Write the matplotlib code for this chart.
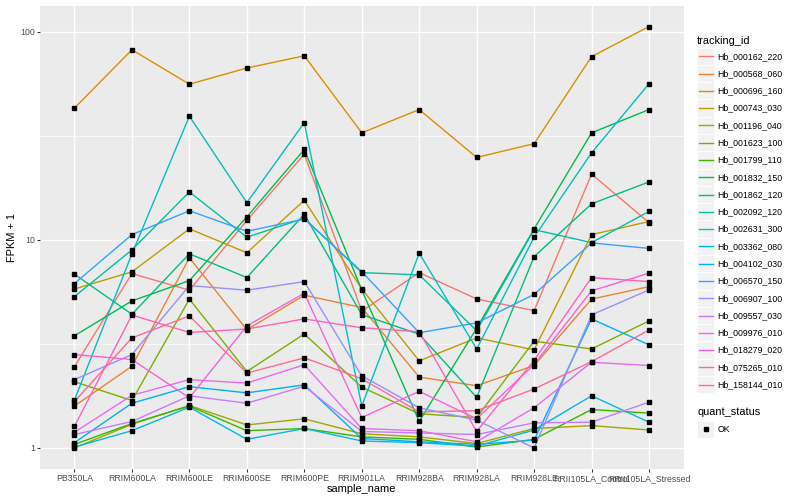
import numpy as np
import matplotlib
matplotlib.use("Agg")
import matplotlib.pyplot as plt
from matplotlib.ticker import LogLocator, FuncFormatter, NullFormatter
from matplotlib.lines import Line2D
from matplotlib.patches import Rectangle

plt.rcParams['font.family'] = ['Liberation Sans', 'DejaVu Sans']

samples = ['PB350LA', 'RRIM600LA', 'RRIM600LE', 'RRIM600SE', 'RRIM600PE', 'RRIM901LA',
           'RRIM928BA', 'RRIM928LA', 'RRIM928LE', 'RRII105LA_Control', 'RRII105LA_Stressed']

tracking_ids = ['Hb_000162_220', 'Hb_000568_060', 'Hb_000696_160', 'Hb_000743_030',
                'Hb_001196_040', 'Hb_001623_100', 'Hb_001799_110', 'Hb_001832_150',
                'Hb_001862_120', 'Hb_002092_120', 'Hb_002631_300', 'Hb_003362_080',
                'Hb_004102_030', 'Hb_006570_150', 'Hb_006907_100', 'Hb_009557_030',
                'Hb_009976_010', 'Hb_018279_020', 'Hb_075265_010', 'Hb_158144_010']

# FPKM + 1 values, one list per tracking_id, in sample order
hb_000162_220 = [2.46, 6.89, 5.73, 12.4, 25.8, 4.55, 6.96, 5.20, 4.57, 20.7, 12.1]
hb_000568_060 = [1.59, 2.47, 8.20, 3.70, 5.42, 4.73, 2.19, 1.99, 2.49, 5.19, 5.96]
hb_000696_160 = [43.0, 82.0, 56.0, 67.0, 76.7, 32.7, 42.3, 24.9, 29.0, 76.0, 106.0]
hb_000743_030 = [5.81, 7.02, 11.3, 8.67, 15.5, 5.81, 2.62, 3.38, 2.96, 10.6, 12.25]
hb_001196_040 = [1.00, 1.30, 1.60, 1.29, 1.38, 1.17, 1.13, 1.05, 1.24, 1.28, 1.22]
hb_001623_100 = [2.08, 1.69, 5.19, 2.33, 3.53, 1.96, 1.46, 1.40, 3.26, 2.99, 4.08]
hb_001799_110 = [1.04, 1.31, 1.59, 1.21, 1.24, 1.13, 1.10, 1.01, 1.10, 1.53, 1.47]
hb_001832_150 = [3.46, 5.09, 6.37, 12.9, 27.2, 5.75, 1.34, 3.76, 11.3, 32.7, 42.3]
hb_001862_120 = [6.84, 4.39, 8.57, 6.59, 13.3, 4.37, 3.52, 1.75, 8.31, 14.9, 19.0]
hb_002092_120 = [5.34, 8.95, 17.0, 10.3, 12.7, 6.96, 6.79, 3.66, 11.2, 9.70, 13.7]
hb_002631_300 = [1.70, 8.57, 39.3, 15.1, 36.6, 1.59, 8.63, 2.99, 10.3, 26.2, 56.3]
hb_003362_080 = [1.01, 1.21, 1.57, 1.10, 1.24, 1.08, 1.06, 1.02, 1.22, 1.78, 1.33]
hb_004102_030 = [1.06, 1.64, 1.97, 1.84, 2.01, 1.11, 1.07, 1.04, 1.09, 4.17, 3.13]
hb_006570_150 = [6.17, 10.6, 13.8, 11.0, 12.6, 7.04, 3.58, 3.99, 5.47, 9.67, 9.10]
hb_006907_100 = [2.13, 2.81, 6.03, 5.73, 6.30, 2.22, 1.56, 1.36, 1.00, 4.36, 5.75]
hb_009557_030 = [1.16, 1.34, 1.78, 1.64, 1.98, 1.20, 1.18, 1.16, 1.32, 1.33, 1.66]
hb_009976_010 = [1.19, 1.79, 2.13, 2.05, 2.51, 1.24, 1.21, 1.07, 1.56, 2.58, 2.49]
hb_018279_020 = [2.81, 2.66, 1.74, 3.86, 5.54, 1.40, 1.87, 1.38, 2.52, 5.69, 6.92]
hb_075265_010 = [1.27, 4.35, 3.59, 3.73, 4.17, 3.78, 3.62, 1.20, 2.64, 6.59, 6.30]
hb_158144_010 = [1.67, 3.38, 4.31, 2.29, 2.71, 2.15, 1.49, 1.51, 1.92, 2.60, 3.69]

series_values = [hb_000162_220, hb_000568_060, hb_000696_160, hb_000743_030, hb_001196_040,
                 hb_001623_100, hb_001799_110, hb_001832_150, hb_001862_120, hb_002092_120,
                 hb_002631_300, hb_003362_080, hb_004102_030, hb_006570_150, hb_006907_100,
                 hb_009557_030, hb_009976_010, hb_018279_020, hb_075265_010, hb_158144_010]

quant_status = ['OK']


def hcl_to_hex(h, c=100.0, l=65.0):
    # polar CIE-Luv -> sRGB (as R's hcl())
    Xn, Yn, Zn = 95.047, 100.000, 108.883
    hr = np.deg2rad(h)
    U, V = c * np.cos(hr), c * np.sin(hr)
    Y = Yn * (((l + 16) / 116) ** 3 if l > 8 else l / 903.3)
    un = 4 * Xn / (Xn + 15 * Yn + 3 * Zn)
    vn = 9 * Yn / (Xn + 15 * Yn + 3 * Zn)
    u = U / (13 * l) + un
    v = V / (13 * l) + vn
    X = 9.0 * Y * u / (4 * v)
    Z = -X / 3 - 5 * Y + 3 * Y / v
    X, Y, Z = X / 100, Y / 100, Z / 100
    r = 3.240479 * X - 1.537150 * Y - 0.498535 * Z
    g = -0.969256 * X + 1.875992 * Y + 0.041556 * Z
    b = 0.055648 * X - 0.204043 * Y + 1.057311 * Z

    def gam(x):
        return 1.055 * x ** (1 / 2.4) - 0.055 if x > 0.00304 else 12.92 * x
    rgb = [min(max(gam(max(x, 0)), 0), 1) for x in (r, g, b)]
    return '#%02X%02X%02X' % tuple(int(round(x * 255)) for x in rgb)


n = len(tracking_ids)
hues = np.linspace(15, 375, n + 1)[:-1]
colors = [hcl_to_hex(h) for h in hues]

W, H = 800, 500
fig = plt.figure(figsize=(8, 5), dpi=100)
fig.patch.set_facecolor('white')

px_l, px_r, px_t, px_b = 40.0, 683.5, 5.5, 469.0
ax = fig.add_axes([px_l / W, 1 - px_b / H, (px_r - px_l) / W, (px_b - px_t) / H])
ax.set_facecolor('#EBEBEB')
for s in ax.spines.values():
    s.set_visible(False)

x = np.arange(len(samples))
for vals, col in zip(series_values, colors):
    ax.plot(x, vals, color=col, lw=1.0, zorder=3, solid_capstyle='butt')
for vals in series_values:
    ax.plot(x, vals, linestyle='none', marker='s', ms=2.3, color='black', zorder=4)

ax.set_yscale('log')
allv = np.concatenate([np.asarray(v) for v in series_values])
lo, hi = np.log10(allv.min()), np.log10(allv.max())
pad = 0.05 * (hi - lo)
ax.set_ylim(10 ** (lo - pad), 10 ** (hi + pad))
ax.set_xlim(-0.6, len(samples) - 1 + 0.6)

ax.yaxis.set_major_locator(LogLocator(base=10))
ax.yaxis.set_major_formatter(FuncFormatter(lambda v, p: '%g' % v))
ax.yaxis.set_minor_locator(LogLocator(base=10, subs=(10 ** 0.5,)))
ax.yaxis.set_minor_formatter(NullFormatter())
ax.set_xticks(x)
ax.set_xticklabels(samples)

ax.grid(True, which='major', axis='both', color='white', lw=1.0, zorder=1)
ax.grid(True, which='minor', axis='y', color='white', lw=0.5, zorder=1)
ax.set_axisbelow(True)

ax.tick_params(axis='both', which='major', direction='out', length=1.98, width=0.75,
               color='#333333', labelcolor='#4D4D4D', labelsize=6.3, pad=1.6)
ax.tick_params(axis='y', which='minor', length=0)

ax.set_xlabel('sample_name', fontsize=7.9, color='black')
ax.xaxis.set_label_coords(0.5, (px_b - 488.5) / (px_b - px_t))
ax.xaxis.label.set_va('center')
ax.set_ylabel('FPKM + 1', fontsize=7.9, color='black')
ax.yaxis.set_label_coords((12.5 - px_l) / (px_r - px_l), 0.5)
ax.yaxis.label.set_va('center')


def fx(px):
    return px / W


def fy(py):
    return 1 - py / H


key = 17.28
kx = 697.0
fig.text(fx(kx), fy(40.7), 'tracking_id', fontsize=7.9, ha='left', va='center')
y0 = 56.3
for i, (tid, col) in enumerate(zip(tracking_ids, colors)):
    cy = y0 + key * i
    fig.add_artist(Rectangle((fx(kx), fy(cy + key / 2)), key / W, key / H,
                             facecolor='#F2F2F2', edgecolor='white', lw=0.6,
                             transform=fig.transFigure))
    fig.add_artist(Line2D([fx(kx + 1.7), fx(kx + key - 1.7)], [fy(cy), fy(cy)],
                          color=col, lw=1.0, transform=fig.transFigure))
    fig.text(fx(kx + key + 3.2), fy(cy), tid, fontsize=6.3, ha='left', va='center')

fig.text(fx(kx), fy(412.3), 'quant_status', fontsize=7.9, ha='left', va='center')
cy = 429.3
for i, qs in enumerate(quant_status):
    fig.add_artist(Rectangle((fx(kx), fy(cy + key / 2)), key / W, key / H,
                             facecolor='#F2F2F2', edgecolor='white', lw=0.6,
                             transform=fig.transFigure))
    fig.add_artist(Line2D([fx(kx + key / 2)], [fy(cy)], marker='s', ms=2.3,
                          color='black', linestyle='none', transform=fig.transFigure))
    fig.text(fx(kx + key + 3.2), fy(cy), qs, fontsize=6.3, ha='left', va='center')

fig.savefig('out.png', dpi=100, facecolor='white')
